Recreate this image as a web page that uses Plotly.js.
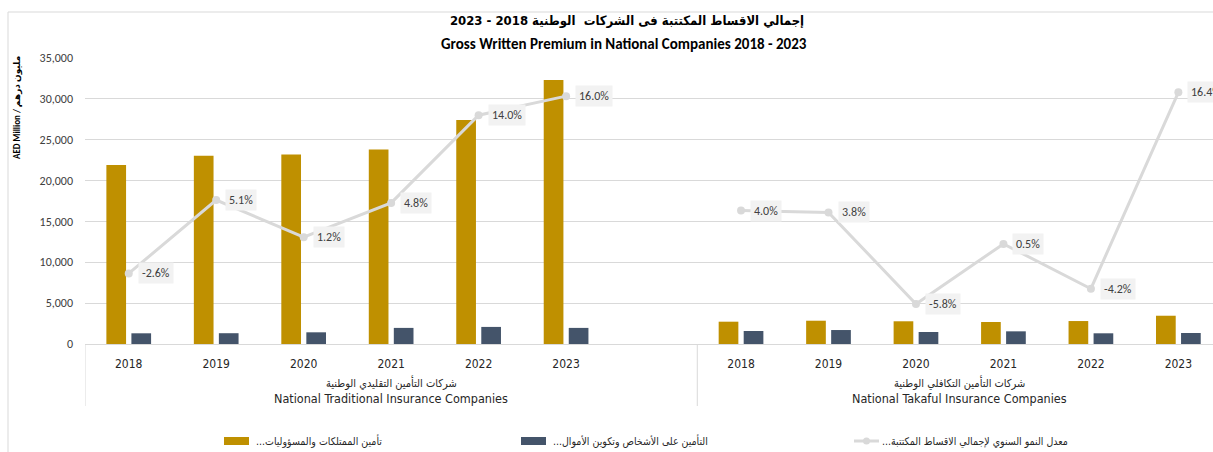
<!DOCTYPE html>
<html>
<head>
<meta charset="utf-8">
<script src="https://cdn.plot.ly/plotly-3.0.1.min.js"></script>
<style>html,body{margin:0;padding:0;background:#fff;overflow:hidden}</style>
</head>
<body>
<div id="chart" style="width:1213px;height:452px"></div>
<script>
// ---------- data ----------
const years = ['2018', '2019', '2020', '2021', '2022', '2023'];
const groupsEn = ['National Traditional Insurance Companies', 'National Takaful Insurance Companies'];
const groupsAr = ['شركات التأمين التقليدي الوطنية', 'شركات التأمين التكافلي الوطنية'];
const seriesNames = [
  'تأمين الممتلكات والمسؤوليات...',
  'التأمين على الأشخاص وتكوين الأموال...',
  'معدل النمو السنوي لإجمالي الاقساط المكتتبة...'
];
const tradProperty = [21900, 23050, 23200, 23800, 27400, 32300];
const tradPersons  = [1310, 1320, 1430, 1970, 2090, 1970];
const tradGrowth   = [-0.026, 0.051, 0.012, 0.048, 0.140, 0.160];
const takProperty  = [2730, 2850, 2780, 2690, 2810, 3460];
const takPersons   = [1590, 1710, 1470, 1550, 1310, 1350];
const takGrowth    = [0.040, 0.038, -0.058, 0.005, -0.042, 0.164];
const titleAr = 'إجمالي الاقساط المكتتبة فى الشركات  الوطنية 2018 - 2023';
const titleEn = 'Gross Written Premium in National Companies 2018 - 2023';
const yTitle = 'AED Million / مليون درهم';

// ---------- geometry helpers ----------
const W = 1213, H = 452, ML = 85, MT = 58, MB = 108;
const PW = W - ML, PH = H - MT - MB;
const fx = px => (px - ML) / PW;
const fy = py => (H - MB - py) / PH;
const catPx = 87.47;
const xMax = PW / catPx - 0.5;

const tradX = years.map((_, i) => i);
const takX = years.map((_, i) => i + 7);
const gap = 6;

const GOLD = '#bf9000', NAVY = '#44546a', LINEC = '#d9d9d9';
const NARROW = '"Liberation Sans Narrow", "DejaVu Sans Condensed", "DejaVu Sans", sans-serif';
const ARNARROW = '"DejaVu Sans Condensed", "DejaVu Sans", sans-serif';
const MAINF = 'Carlito, Lato, "DejaVu Sans", sans-serif';

const traces = [
  {type: 'bar', name: seriesNames[0], x: tradX.concat(takX), y: tradProperty.concat(takProperty),
   marker: {color: GOLD}, hoverinfo: 'y'},
  {type: 'bar', name: seriesNames[1], x: tradX.concat(takX), y: tradPersons.concat(takPersons),
   marker: {color: NAVY}, hoverinfo: 'y'},
  {type: 'scatter', mode: 'lines+markers', name: seriesNames[2], yaxis: 'y2',
   x: tradX.concat([gap], takX), y: tradGrowth.concat([null], takGrowth), connectgaps: false,
   line: {color: LINEC, width: 3}, marker: {color: LINEC, size: 8}, hoverinfo: 'y'}
];

const annotations = [];
const labelX = tradX.concat(takX), labelY = tradGrowth.concat(takGrowth);
labelX.forEach((x, i) => {
  annotations.push({xref: 'x', yref: 'y2', x: x, y: labelY[i], xanchor: 'left', yanchor: 'middle',
    xshift: 9, showarrow: false, text: (labelY[i] * 100).toFixed(1) + '%',
    bgcolor: '#f2f2f2', borderpad: 3, font: {family: MAINF, size: 12, color: '#404040'}});
});
// group labels
[3, 9.5].forEach((cx, g) => {
  annotations.push({xref: 'x', yref: 'paper', x: cx, y: fy(383), showarrow: false, yanchor: 'middle',
    text: groupsAr[g], font: {family: ARNARROW, size: 11, color: '#262626'}});
  annotations.push({xref: 'x', yref: 'paper', x: cx, y: fy(398), showarrow: false, yanchor: 'middle',
    text: groupsEn[g], font: {family: NARROW, size: 12.5, color: '#262626'}});
});
// title second line
annotations.push({xref: 'paper', yref: 'paper', x: fx(624), y: fy(44), showarrow: false,
  xanchor: 'center', yanchor: 'middle', text: '<b>' + titleEn + '</b>',
  font: {family: MAINF, size: 15, color: '#000'}});
// y axis title
annotations.push({xref: 'paper', yref: 'paper', x: fx(17), y: fy(108), showarrow: false,
  textangle: -90, xanchor: 'center', yanchor: 'middle', text: '<b>' + yTitle + '</b>',
  font: {family: MAINF, size: 9, color: '#000'}});
// legend texts
const legTextX = [254, 551, 880];
seriesNames.forEach((n, i) => {
  annotations.push({xref: 'paper', yref: 'paper', x: fx(legTextX[i]), y: fy(441), showarrow: false,
    xanchor: 'left', yanchor: 'middle', text: n + '\u200F',
    font: {family: ARNARROW, size: 10.5, color: '#262626'}});
});

const shapes = [
  // chart border
  {type: 'line', xref: 'paper', yref: 'paper', x0: fx(8), x1: fx(W + 5), y0: fy(12), y1: fy(12), line: {color: LINEC, width: 1}},
  {type: 'line', xref: 'paper', yref: 'paper', x0: fx(8), x1: fx(8), y0: fy(12), y1: fy(H + 5), line: {color: LINEC, width: 1}},
  // category group dividers
  {type: 'line', xref: 'x', yref: 'paper', x0: -0.5, x1: -0.5, y0: 0, y1: fy(406), line: {color: LINEC, width: 1}},
  {type: 'line', xref: 'x', yref: 'paper', x0: 6.5, x1: 6.5, y0: 0, y1: fy(406), line: {color: LINEC, width: 1}},
  // legend swatches
  {type: 'rect', xref: 'paper', yref: 'paper', x0: fx(224), x1: fx(249), y0: fy(445), y1: fy(437), fillcolor: GOLD, line: {width: 0}},
  {type: 'rect', xref: 'paper', yref: 'paper', x0: fx(521), x1: fx(546), y0: fy(445), y1: fy(437), fillcolor: NAVY, line: {width: 0}},
  {type: 'line', xref: 'paper', yref: 'paper', x0: fx(854), x1: fx(879), y0: fy(441), y1: fy(441), line: {color: LINEC, width: 3}},
  {type: 'circle', xref: 'paper', yref: 'paper', x0: fx(863), x1: fx(870), y0: fy(444.5), y1: fy(437.5), fillcolor: LINEC, line: {width: 0}}
];

const layout = {
  width: W, height: H,
  margin: {l: ML, r: 0, t: MT, b: MB, pad: 0},
  paper_bgcolor: '#fff', plot_bgcolor: '#fff',
  showlegend: false,
  barmode: 'group', bargap: 0.428, bargroupgap: 0.213,
  title: {text: '<b>' + titleAr + '</b>', xref: 'container', yref: 'container',
    x: 627 / W, xanchor: 'center', y: 1 - 20 / H, yanchor: 'middle',
    font: {family: ARNARROW, size: 13, color: '#000'}},
  xaxis: {range: [-0.5, xMax], tickmode: 'array', tickvals: tradX.concat(takX), ticktext: years.concat(years),
    showgrid: false, zeroline: false, showline: true, linecolor: LINEC, linewidth: 1, ticks: '',
    ticklabelstandoff: 9, tickfont: {family: NARROW, size: 12, color: '#262626'}, fixedrange: true},
  yaxis: {range: [0, 35000], dtick: 5000, tickformat: ',', showgrid: true, gridcolor: LINEC, gridwidth: 1,
    zeroline: false, showline: false, ticks: '', ticklabelstandoff: 11,
    tickfont: {family: MAINF, size: 12, color: '#404040'}, fixedrange: true},
  yaxis2: {overlaying: 'y', side: 'right', range: [-0.1, 0.2], visible: false, showgrid: false, zeroline: false, fixedrange: true},
  annotations: annotations,
  shapes: shapes
};

Plotly.newPlot('chart', traces, layout, {displayModeBar: false, staticPlot: true});
</script>
</body>
</html>
